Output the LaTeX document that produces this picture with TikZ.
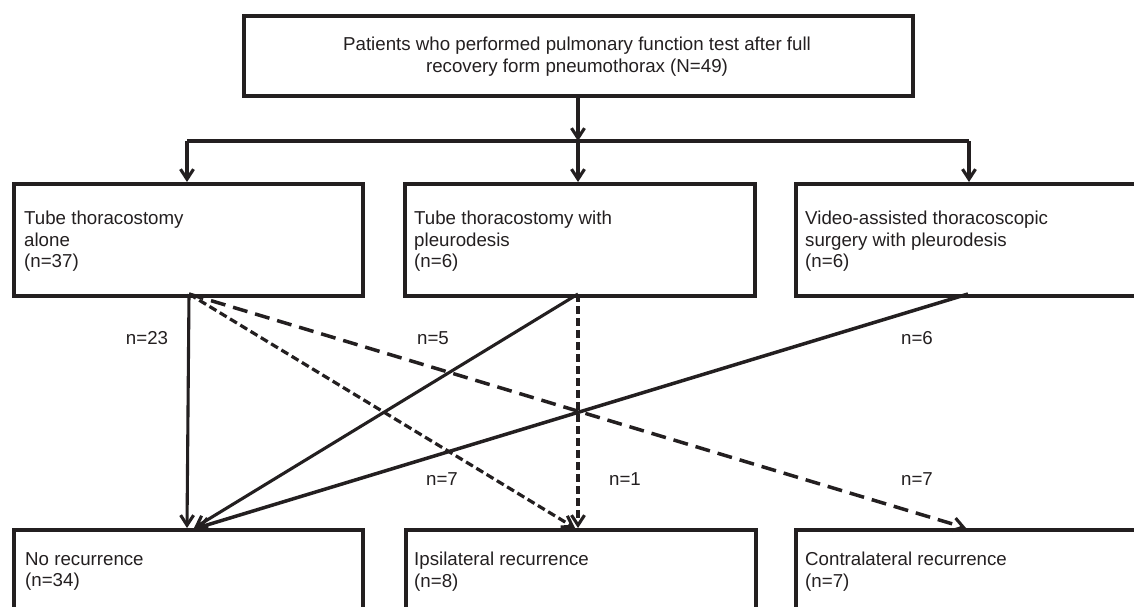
\documentclass[tikz,border=0pt]{standalone}
\usepackage{fontspec}
\setmainfont{Liberation Sans}
\usetikzlibrary{arrows.meta}
\definecolor{ink}{HTML}{231F20}
\begin{document}
\begin{tikzpicture}[x=1pt,y=-1pt,
  box/.style={draw=ink, line width=3.6pt, rectangle, inner sep=0pt, anchor=north west},
  txt/.style={text=ink, font=\fontsize{18.7}{21.5}\selectfont, inner sep=0pt, align=left, anchor=west},
  lbl/.style={text=ink, font=\fontsize{18.7}{21.5}\selectfont, inner sep=0pt},
  arr/.style={draw=ink, line width=3.1pt, -{Straight Barb[length=10pt,width=13pt,line width=3.1pt]}},
  plain/.style={draw=ink, line width=3.1pt},
  sdash/.style={dash pattern=on 8pt off 4pt},
  ldash/.style={dash pattern=on 15pt off 8pt},
]
\useasboundingbox (0,0) rectangle (1134,606);
\fill[white] (0,0) rectangle (1134,606);
\clip (0,0) rectangle (1134,606);

% boxes
\node[box, minimum width=669pt, minimum height=80pt] (top) at (242,14) {};
\node[box, minimum width=349pt, minimum height=112pt] (t1) at (12,182) {};
\node[box, minimum width=350pt, minimum height=112pt] (t2) at (403,182) {};
\node[box, minimum width=360pt, minimum height=112pt] (t3) at (794,182) {};
\node[box, minimum width=349pt, minimum height=112pt] (b1) at (12,528) {};
\node[box, minimum width=350pt, minimum height=112pt] (b2) at (404,528) {};
\node[box, minimum width=360pt, minimum height=112pt] (b3) at (794,528) {};

% texts
\node[lbl, align=center] (toptxt) at (577,56.5) {Patients who performed pulmonary function test after full\\recovery form pneumothorax (N=49)};
\node[txt] (t1txt) at (24,241.5) {Tube thoracostomy\\alone\\(n=37)};
\node[txt] (t2txt) at (414,241.5) {Tube thoracostomy with\\pleurodesis\\(n=6)};
\node[txt] (t3txt) at (805,241.5) {Video-assisted thoracoscopic\\surgery with pleurodesis\\(n=6)};
\node[txt] (b1txt) at (25,571.5) {No recurrence\\(n=34)};
\node[txt] (b2txt) at (414,571.5) {Ipsilateral recurrence\\(n=8)};
\node[txt] (b3txt) at (805,571.5) {Contralateral recurrence\\(n=7)};

% labels
\node[lbl] (l23) at (147,338) {n=23};
\node[lbl] (l5) at (433,338) {n=5};
\node[lbl] (l6) at (917,338) {n=6};
\node[lbl] (l7a) at (442,479) {n=7};
\node[lbl] (l1) at (625,479) {n=1};
\node[lbl] (l7b) at (917,479) {n=7};

% junction coordinates
\coordinate (j1) at (187,141);
\coordinate (j2) at (578,141);
\coordinate (j3) at (969,141);

% top distribution
\draw[arr] (top.south -| j2) -- (j2);
\draw[plain] (j1) -- (j3);
\draw[arr] (j1) -- (j1 |- t1.north);
\draw[arr] (j2) -- (j2 |- t2.north);
\draw[arr] (j3) -- (j3 |- t3.north);

% start / end points
\coordinate (s1) at (189,294);
\coordinate (s2) at (578,294);
\coordinate (s3) at (968,294);
\coordinate (e1a) at (187,528);
\coordinate (e1b) at (194,528);
\coordinate (e1c) at (197,528);
\coordinate (e2a) at (575,528);
\coordinate (e2b) at (578,528);
\coordinate (e3) at (966,528);

% flows
\draw[arr] (s1) -- (e1a);
\draw[arr, sdash, line width=3.2pt] (s1) -- (e2a);
\draw[arr, ldash, line width=3.5pt] (s1) -- (e3);
\draw[arr] (s2) -- (e1b);
\draw[arr, sdash, line width=3.2pt] (s2) -- (e2b);
\draw[arr, line width=3.5pt] (s3) -- (e1c);
\end{tikzpicture}
\end{document}
